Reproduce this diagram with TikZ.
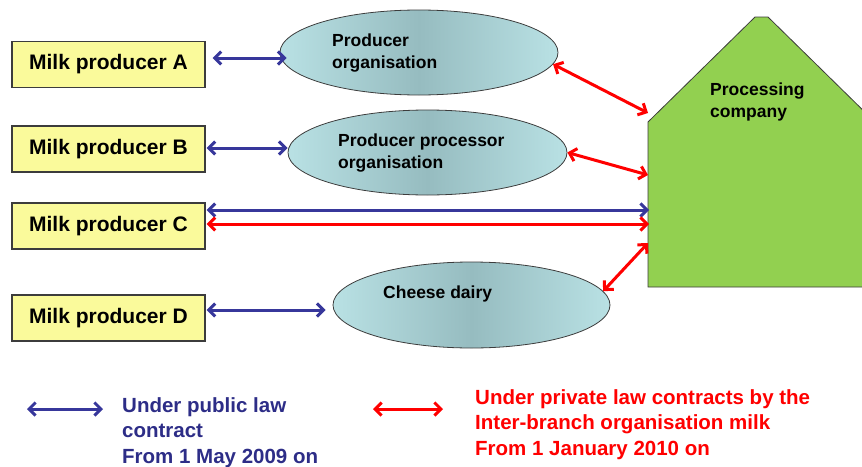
\documentclass[tikz,border=0pt]{standalone}
\usepackage{fontspec}
\setmainfont{Liberation Sans}
\usetikzlibrary{arrows.meta,shapes.geometric}
\definecolor{pblue}{RGB}{55,55,155}
\definecolor{pred}{RGB}{255,0,0}
\definecolor{boxfill}{RGB}{250,250,155}
\definecolor{edgegray}{RGB}{60,60,60}
\definecolor{elledge}{RGB}{185,225,228}
\definecolor{ellmid}{RGB}{150,188,192}
\definecolor{pcgreen}{RGB}{146,208,80}
\definecolor{legblue}{RGB}{45,45,135}
\begin{document}
\begin{tikzpicture}[x=1pt,y=-1pt,
  >={Straight Barb[length=6.5pt,width=13pt]},
  producer/.style={draw=edgegray,line width=1.2pt,fill=boxfill,minimum width=193pt,minimum height=46pt,inner sep=0pt,font=\bfseries\fontsize{21}{25}\selectfont},
  org/.style={ellipse,draw=edgegray,line width=0.8pt,inner sep=0pt,left color=elledge,right color=elledge,middle color=ellmid},
  orgtext/.style={anchor=base west,align=left,inner sep=0pt,font=\bfseries\fontsize{17.5}{21.5}\selectfont},
  pubarrow/.style={draw=pblue,line width=3pt,<->},
  privarrow/.style={draw=pred,line width=3pt,<->},
  legtext/.style={anchor=base west,align=left,inner sep=0pt,font=\bfseries\fontsize{20.5}{25.5}\selectfont}]
\useasboundingbox (0,0) rectangle (862,466);

% producers
\node[producer] (a) at (108.5,64.5) {Milk producer A};
\node[producer] (b) at (108.5,149) {Milk producer B};
\node[producer] (c) at (108.5,226) {Milk producer C};
\node[producer] (d) at (108.5,318) {Milk producer D};

% organisations
\node[org,minimum width=278pt,minimum height=85pt] (po) at (419,52.5) {};
\node[orgtext] (potext) at (332,68) {Producer\\organisation};
\node[org,minimum width=279pt,minimum height=85pt] (ppo) at (427.5,152.5) {};
\node[orgtext] (ppotext) at (338,168) {Producer processor\\organisation};
\node[org,minimum width=277pt,minimum height=86pt] (cd) at (471.5,305) {};
\node[orgtext] (cdtext) at (383,298) {Cheese dairy};

% processing company
\begin{scope}
\clip (0,0) rectangle (862,466);
\draw[edgegray,line width=0.8pt,fill=pcgreen] (648,287) -- (648,122) -- (755,17) -- (768,17) -- (875,122) -- (875,287) -- cycle;
\end{scope}
\node[orgtext] (pctext) at (710,117) {Processing\\company};
\coordinate (pc1) at (648,113);
\coordinate (pc2) at (648,175);
\coordinate (pc3) at (649,210);
\coordinate (pc4) at (649,224);
\coordinate (pc5) at (648,243);
\coordinate (ya) at (0,58);
\coordinate (yb) at (0,148);
\coordinate (yd) at (0,310);

% connectors
\draw[pubarrow] ([xshift=7pt]a.east |- ya) -- ([xshift=7pt]po.west |- ya);
\draw[pubarrow] ([xshift=1pt]b.east |- yb) -- (ppo.west |- yb);
\draw[pubarrow] ([xshift=1pt]c.east |- pc3) -- (pc3);
\draw[privarrow] ([xshift=1pt]c.east |- pc4) -- (pc4);
\draw[pubarrow] ([xshift=1pt]d.east |- yd) -- ([xshift=-7pt]cd.west |- yd);
\draw[privarrow] (po.-5) -- (pc1);
\draw[privarrow] (ppo.east) -- (pc2);
\draw[privarrow] (cd.6) -- (pc5);

% legend
\coordinate (l1a) at (27,409);
\coordinate (l1b) at (103,409);
\draw[pubarrow] (l1a) -- (l1b);
\node[legtext,text=legblue] (l1text) at (122,463) {Under public law\\contract\\From 1 May 2009 on};
\coordinate (l2a) at (373,409);
\coordinate (l2b) at (443,409);
\draw[privarrow] (l2a) -- (l2b);
\node[legtext,text=pred] (l2text) at (475,455) {Under private law contracts by the\\Inter-branch organisation milk\\From 1 January 2010 on};
\end{tikzpicture}
\end{document}
